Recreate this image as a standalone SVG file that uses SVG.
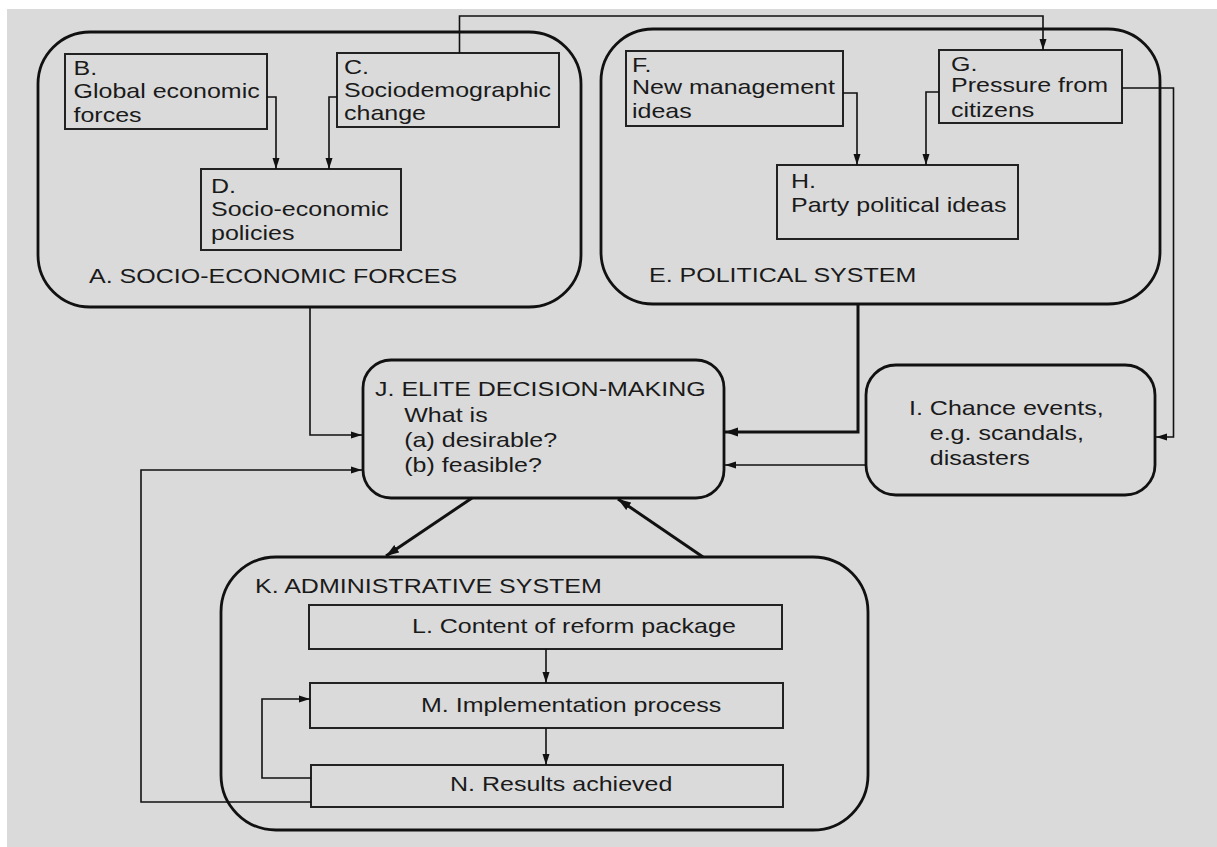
<svg xmlns="http://www.w3.org/2000/svg" width="1217" height="847" viewBox="0 0 1217 847">
<defs>
<style>
.big{fill:none;stroke:#111;stroke-width:2.8}
.box{fill:none;stroke:#222;stroke-width:2}
.t{font-family:"Liberation Sans",Arial,sans-serif;font-size:20.5px;fill:#1a1a1a}
.c{fill:none;stroke:#111;stroke-width:1.6}
.ct{fill:none;stroke:#111;stroke-width:3}
</style>
<marker id="ar" markerUnits="userSpaceOnUse" markerWidth="12" markerHeight="8" refX="11" refY="4" orient="auto">
<path d="M0,0.5 L11,4 L0,7.5 z" fill="#111"/>
</marker>
<marker id="arb" markerUnits="userSpaceOnUse" markerWidth="14" markerHeight="10" refX="13" refY="5" orient="auto">
<path d="M0,0.5 L13,5 L0,9.5 z" fill="#111"/>
</marker>
</defs>
<rect x="0" y="0" width="1217" height="847" fill="#ffffff"/>
<rect x="7" y="9" width="1210" height="838" fill="#dadada"/>

<g id="nodeA">
<rect class="big" x="38" y="32" width="543" height="275" rx="52" ry="52"/>
<text class="t" transform="matrix(1.22 0 0 1 89 283)">A. SOCIO-ECONOMIC FORCES</text>
</g>
<g id="nodeB">
<rect class="box" x="65" y="54" width="202" height="75"/>
<text class="t" transform="matrix(1.22 0 0 1 73.5 75)"><tspan x="0" y="0">B.</tspan><tspan x="0" y="23.5">Global economic</tspan><tspan x="0" y="47">forces</tspan></text>
</g>
<g id="nodeC">
<rect class="box" x="337" y="53" width="222" height="74"/>
<text class="t" transform="matrix(1.22 0 0 1 344 74)"><tspan x="0" y="0">C.</tspan><tspan x="0" y="23">Sociodemographic</tspan><tspan x="0" y="46.5">change</tspan></text>
</g>
<g id="nodeD">
<rect class="box" x="201" y="169" width="200" height="81"/>
<text class="t" transform="matrix(1.22 0 0 1 211 192.5)"><tspan x="0" y="0">D.</tspan><tspan x="0" y="24">Socio-economic</tspan><tspan x="0" y="48">policies</tspan></text>
</g>

<g id="nodeE">
<rect class="big" x="601" y="29" width="559" height="275" rx="52" ry="52"/>
<text class="t" transform="matrix(1.22 0 0 1 649 281.5)">E. POLITICAL SYSTEM</text>
</g>
<g id="nodeF">
<rect class="box" x="626" y="51" width="217" height="75"/>
<text class="t" transform="matrix(1.22 0 0 1 632 71.5)"><tspan x="0" y="0">F.</tspan><tspan x="0" y="23">New management</tspan><tspan x="0" y="46.5">ideas</tspan></text>
</g>
<g id="nodeG">
<rect class="box" x="939" y="50" width="183" height="73"/>
<text class="t" transform="matrix(1.22 0 0 1 951 70.5)"><tspan x="0" y="0">G.</tspan><tspan x="0" y="22">Pressure from</tspan><tspan x="0" y="46.5">citizens</tspan></text>
</g>
<g id="nodeH">
<rect class="box" x="777" y="165" width="241" height="74"/>
<text class="t" transform="matrix(1.22 0 0 1 791 188)"><tspan x="0" y="0">H.</tspan><tspan x="0" y="24.5">Party political ideas</tspan></text>
</g>

<g id="nodeJ">
<rect class="big" x="363" y="360" width="361" height="138" rx="28" ry="28"/>
<text class="t" transform="matrix(1.22 0 0 1 375 396)"><tspan x="0" y="0">J. ELITE DECISION-MAKING</tspan><tspan x="24" y="26">What is</tspan><tspan x="24" y="51">(a) desirable?</tspan><tspan x="24" y="76">(b) feasible?</tspan></text>
</g>
<g id="nodeI">
<rect class="big" x="866" y="365" width="289" height="130" rx="30" ry="30"/>
<text class="t" transform="matrix(1.22 0 0 1 909 415)"><tspan x="0" y="0">I. Chance events,</tspan><tspan x="17" y="25">e.g. scandals,</tspan><tspan x="17" y="50">disasters</tspan></text>
</g>

<g id="nodeK">
<rect class="big" x="221" y="557" width="647" height="273" rx="55" ry="55"/>
<text class="t" transform="matrix(1.22 0 0 1 255 593)">K. ADMINISTRATIVE SYSTEM</text>
</g>
<g id="nodeL">
<rect class="box" x="309" y="605" width="473" height="44"/>
<text class="t" transform="matrix(1.22 0 0 1 412 633)">L. Content of reform package</text>
</g>
<g id="nodeM">
<rect class="box" x="310" y="683" width="473" height="45"/>
<text class="t" transform="matrix(1.22 0 0 1 421 712)">M. Implementation process</text>
</g>
<g id="nodeN">
<rect class="box" x="311" y="765" width="472" height="42"/>
<text class="t" transform="matrix(1.22 0 0 1 450 791)">N. Results achieved</text>
</g>

<g id="connectors">
<path class="c" d="M459.5,53 V16 H1043 V50" marker-end="url(#ar)"/>
<path class="c" d="M267,97 H276 V169" marker-end="url(#ar)"/>
<path class="c" d="M337,97 H329 V169" marker-end="url(#ar)"/>
<path class="c" d="M843,93 H857 V165" marker-end="url(#ar)"/>
<path class="c" d="M939,92 H926 V165" marker-end="url(#ar)"/>
<path class="c" d="M1122,88 H1173.5 V437 H1156" marker-end="url(#ar)"/>
<path class="c" d="M310,307 V435 H362" marker-end="url(#ar)"/>
<path class="ct" d="M858,304 V432 H725" marker-end="url(#arb)"/>
<path class="c" d="M866,465 H725" marker-end="url(#ar)"/>
<path class="ct" d="M472,498 L386,556" marker-end="url(#arb)"/>
<path class="ct" d="M703,557 L618,499" marker-end="url(#arb)"/>
<path class="c" d="M546,649 V683" marker-end="url(#ar)"/>
<path class="c" d="M546,728 V765" marker-end="url(#ar)"/>
<path class="c" d="M311,778 H262 V699 H310" marker-end="url(#ar)"/>
<path class="c" d="M311,802 H141 V470 H362" marker-end="url(#ar)"/>
</g>
</svg>
